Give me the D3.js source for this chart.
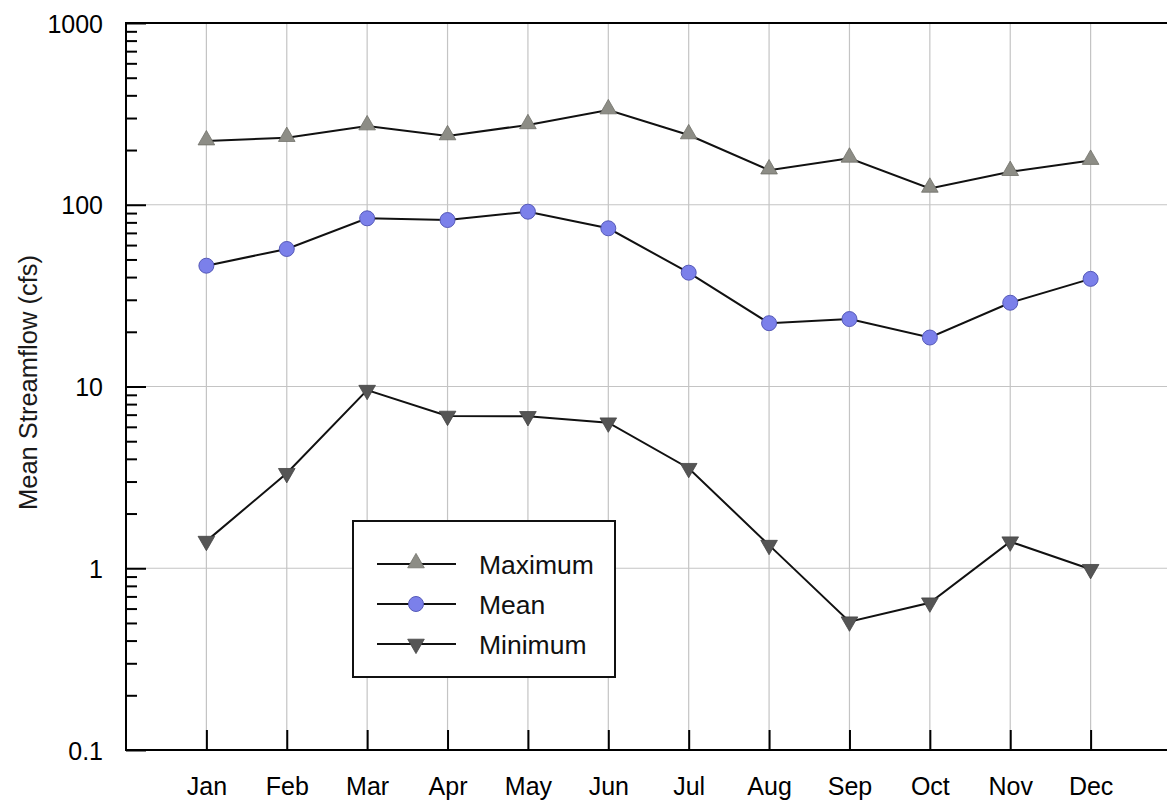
<!DOCTYPE html>
<html>
<head>
<meta charset="utf-8">
<script src="https://cdn.jsdelivr.net/npm/d3@7"></script>
<style>
  html, body { margin: 0; padding: 0; background: #fff; }
  svg { display: block; font-family: "Liberation Sans", Arial, sans-serif; }
</style>
</head>
<body>
<div id="chart"></div>
<script>
const months = ['Jan', 'Feb', 'Mar', 'Apr', 'May', 'Jun', 'Jul', 'Aug', 'Sep', 'Oct', 'Nov', 'Dec'];
const maximum = [224, 234, 271, 239, 275, 332, 242, 155, 180, 123, 152, 175];
const mean = [46.2, 57.1, 84.2, 82.4, 91.6, 74.2, 42.3, 22.3, 23.5, 18.6, 28.9, 39.1];
const minimum = [1.41, 3.33, 9.55, 6.88, 6.85, 6.32, 3.55, 1.34, 0.508, 0.646, 1.40, 0.987];
const yTicks = [0.1, 1, 10, 100, 1000];
const yTickLabels = ['0.1', '1', '10', '100', '1000'];

let width = 1167, height = 800;
let margin = { top: 23, right: -4, bottom: 50, left: 126 };

const svg = d3.select('#chart').append('svg')
	.attr('width', width)
	.attr('height', height);

let x = d3.scalePoint()
	.domain(months)
	.range([margin.left, width - margin.right])
	.padding(1);

let y = d3.scaleLog()
	.domain([0.1, 1000])
	.range([height - margin.bottom, margin.top]);

// grid
const grid = svg.append('g').attr('stroke', '#c4c4c4').attr('stroke-width', 1.2);
grid.selectAll('line.v')
	.data(months)
	.join('line')
	.attr('class', 'v')
	.attr('x1', (d) => x(d)).attr('x2', (d) => x(d))
	.attr('y1', y(1000)).attr('y2', y(0.1));
grid.selectAll('line.h')
	.data(yTicks.slice(1, -1))
	.join('line')
	.attr('class', 'h')
	.attr('x1', margin.left).attr('x2', width)
	.attr('y1', (d) => y(d)).attr('y2', (d) => y(d));

// minor ticks
let minor = [];
for (let dec = 0.1; dec < 1000; dec *= 10) {
	for (let k = 2; k <= 9; k++) minor.push(dec * k);
}

svg.append('g')
	.attr('transform', `translate(${margin.left},0)`)
	.call(d3.axisRight(y).tickValues(minor).tickSize(11).tickFormat(''))
	.call((g) => g.select('.domain').remove())
	.call((g) => g.selectAll('line').attr('stroke', '#000').attr('stroke-width', 2));

svg.append('g')
	.attr('transform', `translate(${margin.left},0)`)
	.call(d3.axisLeft(y).tickValues(yTicks).tickSize(-20).tickPadding(23).tickFormat((d, i) => yTickLabels[i]))
	.call((g) => g.select('.domain').remove())
	.call((g) => g.selectAll('line').attr('stroke', '#000').attr('stroke-width', 2))
	.call((g) => g.selectAll('text').attr('fill', '#000').attr('font-size', 25).attr('font-family', '"Liberation Sans", Arial, sans-serif').attr('dy', '0.36em'));

svg.append('g')
	.attr('transform', `translate(0,${height - margin.bottom})`)
	.call(d3.axisBottom(x).tickSize(-20).tickPadding(27))
	.call((g) => g.select('.domain').remove())
	.call((g) => g.selectAll('line').attr('stroke', '#000').attr('stroke-width', 2))
	.call((g) => g.selectAll('text').attr('fill', '#000').attr('font-size', 25).attr('font-family', '"Liberation Sans", Arial, sans-serif').attr('dy', '0.71em'));

// frame lines
svg.append('line')
	.attr('x1', margin.left).attr('x2', width)
	.attr('y1', y(1000)).attr('y2', y(1000))
	.attr('stroke', '#000').attr('stroke-width', 2);
svg.append('line')
	.attr('x1', margin.left).attr('x2', width)
	.attr('y1', y(0.1)).attr('y2', y(0.1))
	.attr('stroke', '#000').attr('stroke-width', 2);
svg.append('line')
	.attr('x1', margin.left).attr('x2', margin.left)
	.attr('y1', y(1000) - 1).attr('y2', y(0.1) + 1)
	.attr('stroke', '#000').attr('stroke-width', 2);

svg.append('text')
	.attr('transform', `translate(37,${(y(1000) + y(0.1)) / 2 - 4}) rotate(-90)`)
	.attr('text-anchor', 'middle')
	.attr('font-size', 25.5)
	.attr('fill', '#1a1a1a')
	.text('Mean Streamflow (cfs)');

const series = [
	{ name: 'Maximum', values: maximum, shape: 'up', fill: '#8d8d86', stroke: '#707068' },
	{ name: 'Mean', values: mean, shape: 'circle', fill: '#7b80ea', stroke: '#5559b8' },
	{ name: 'Minimum', values: minimum, shape: 'down', fill: '#555555', stroke: '#444444' }
];

let line = d3.line().x((d, i) => x(months[i])).y((d) => y(d));

function marker(g, s) {
	if (s.shape === 'circle') {
		g.append('circle').attr('r', 7.5).attr('fill', s.fill).attr('stroke', s.stroke).attr('stroke-width', 1);
	} else {
		g.append('path')
			.attr('d', d3.symbol(d3.symbolTriangle, 120)())
			.attr('transform', s.shape === 'down' ? 'rotate(180)' : 'translate(0,-1)')
			.attr('fill', s.fill).attr('stroke', s.stroke).attr('stroke-width', 0.8);
	}
}

series.forEach((s) => {
	svg.append('path')
		.datum(s.values)
		.attr('fill', 'none')
		.attr('stroke', '#111')
		.attr('stroke-width', 2)
		.attr('d', line);
	svg.append('g').selectAll('g')
		.data(s.values)
		.join('g')
		.attr('transform', (d, i) => `translate(${x(months[i])},${y(d)})`)
		.each(function () { marker(d3.select(this), s); });
});

// legend
const legend = svg.append('g').attr('transform', 'translate(353,521)');
legend.append('rect')
	.attr('width', 262).attr('height', 156)
	.attr('fill', '#fff').attr('stroke', '#111').attr('stroke-width', 2);
series.forEach((s, i) => {
	const row = legend.append('g').attr('transform', `translate(0,${43 + i * 40})`);
	row.append('line').attr('x1', 24).attr('x2', 103).attr('stroke', '#111').attr('stroke-width', 2);
	const m = row.append('g').attr('transform', 'translate(63,0)');
	marker(m, s);
	row.append('text')
		.attr('x', 126).attr('dy', '0.36em')
		.attr('font-size', 26.5).attr('fill', '#111')
		.text(s.name);
});
</script>
</body>
</html>
